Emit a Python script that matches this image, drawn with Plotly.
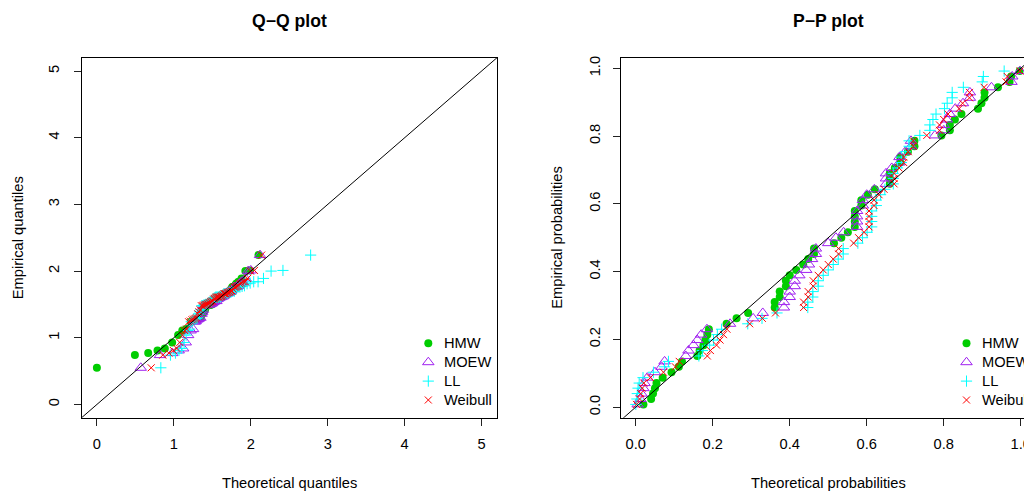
import plotly.graph_objects as go

# ---------------- data ----------------
SERIES = ["HMW", "MOEW", "LL", "Weibull"]

# sorted sample (empirical quantiles), n = 63
DATA = [0.55, 0.74, 0.77, 0.81, 0.84, 0.93, 1.04, 1.11, 1.13, 1.24,
        1.25, 1.27, 1.28, 1.29, 1.30, 1.36, 1.39, 1.42, 1.48, 1.48,
        1.49, 1.49, 1.50, 1.50, 1.51, 1.52, 1.53, 1.54, 1.55, 1.55,
        1.58, 1.59, 1.60, 1.61, 1.61, 1.61, 1.61, 1.62, 1.62, 1.63,
        1.64, 1.66, 1.66, 1.66, 1.67, 1.68, 1.68, 1.69, 1.70, 1.70,
        1.73, 1.76, 1.76, 1.77, 1.78, 1.81, 1.82, 1.84, 1.84, 1.89,
        2.00, 2.01, 2.24]

# empirical probabilities (P-P y values)
EMP_PROB = [0.008, 0.024, 0.040, 0.056, 0.071, 0.087, 0.103, 0.119, 0.135, 0.151,
            0.167, 0.183, 0.198, 0.214, 0.230, 0.246, 0.262, 0.278, 0.294, 0.310,
            0.325, 0.341, 0.357, 0.373, 0.389, 0.405, 0.421, 0.437, 0.452, 0.468,
            0.484, 0.500, 0.516, 0.532, 0.548, 0.563, 0.579, 0.595, 0.611, 0.627,
            0.643, 0.659, 0.675, 0.690, 0.706, 0.722, 0.738, 0.754, 0.770, 0.786,
            0.802, 0.817, 0.833, 0.849, 0.865, 0.881, 0.897, 0.913, 0.929, 0.944,
            0.960, 0.976, 0.992]

# theoretical quantiles (Q-Q x values)
QQ_HMW = [0.000, 0.494, 0.667, 0.788, 0.883, 0.978, 1.056, 1.110, 1.160, 1.220,
          1.250, 1.285, 1.310, 1.330, 1.352, 1.372, 1.390, 1.406, 1.422, 1.436,
          1.455, 1.470, 1.480, 1.490, 1.505, 1.515, 1.525, 1.535, 1.545, 1.555,
          1.565, 1.575, 1.585, 1.595, 1.605, 1.610, 1.615, 1.620, 1.630, 1.635,
          1.645, 1.660, 1.665, 1.675, 1.685, 1.695, 1.705, 1.715, 1.725, 1.735,
          1.745, 1.760, 1.770, 1.785, 1.795, 1.810, 1.825, 1.840, 1.860, 1.880,
          1.930, 1.990, 2.100]
QQ_MOEW = [0.570, 0.820, 0.980, 1.063, 1.121, 1.155, 1.186, 1.218, 1.250, 1.271,
           1.284, 1.298, 1.313, 1.329, 1.345, 1.360, 1.369, 1.377, 1.385, 1.396,
           1.414, 1.432, 1.449, 1.467, 1.483, 1.494, 1.505, 1.516, 1.532, 1.553,
           1.566, 1.580, 1.588, 1.596, 1.602, 1.607, 1.612, 1.626, 1.635, 1.644,
           1.655, 1.665, 1.674, 1.683, 1.692, 1.704, 1.711, 1.719, 1.727, 1.742,
           1.762, 1.781, 1.812, 1.825, 1.838, 1.851, 1.866, 1.879, 1.900, 1.932,
           1.966, 2.000, 2.120]
QQ_LL = [0.831, 0.956, 1.021, 1.067, 1.103, 1.134, 1.160, 1.184, 1.205, 1.225,
         1.243, 1.260, 1.277, 1.292, 1.307, 1.321, 1.335, 1.349, 1.362, 1.375,
         1.388, 1.400, 1.412, 1.425, 1.437, 1.449, 1.460, 1.472, 1.484, 1.496,
         1.508, 1.520, 1.532, 1.544, 1.557, 1.569, 1.582, 1.595, 1.608, 1.622,
         1.636, 1.650, 1.665, 1.681, 1.696, 1.713, 1.730, 1.748, 1.768, 1.788,
         1.810, 1.833, 1.859, 1.887, 1.918, 1.952, 1.992, 2.038, 2.095, 2.165,
         2.264, 2.418, 2.778]
QQ_WEIBULL = [0.706, 0.856, 0.936, 0.993, 1.039, 1.077, 1.111, 1.140, 1.167, 1.192,
              1.214, 1.236, 1.256, 1.275, 1.293, 1.310, 1.326, 1.342, 1.358, 1.373,
              1.387, 1.401, 1.415, 1.429, 1.442, 1.455, 1.468, 1.481, 1.493, 1.505,
              1.518, 1.530, 1.542, 1.554, 1.566, 1.578, 1.590, 1.602, 1.614, 1.626,
              1.638, 1.651, 1.663, 1.676, 1.688, 1.701, 1.715, 1.728, 1.742, 1.757,
              1.771, 1.787, 1.803, 1.820, 1.838, 1.858, 1.879, 1.902, 1.928, 1.959,
              1.996, 2.048, 2.141]

# theoretical probabilities (P-P x values)
PP_HMW = [0.020, 0.040, 0.045, 0.050, 0.054, 0.070, 0.093, 0.112, 0.120, 0.160,
          0.166, 0.176, 0.181, 0.186, 0.190, 0.236, 0.262, 0.292, 0.361, 0.361,
          0.374, 0.374, 0.390, 0.390, 0.400, 0.417, 0.435, 0.448, 0.463, 0.463,
          0.515, 0.534, 0.551, 0.569, 0.569, 0.569, 0.569, 0.586, 0.586, 0.603,
          0.621, 0.660, 0.660, 0.660, 0.673, 0.687, 0.687, 0.707, 0.724, 0.724,
          0.794, 0.816, 0.816, 0.829, 0.846, 0.889, 0.898, 0.906, 0.906, 0.941,
          0.971, 0.975, 0.997]
PP_MOEW = [0.005, 0.012, 0.015, 0.020, 0.023, 0.030, 0.050, 0.067, 0.075, 0.130,
           0.137, 0.150, 0.160, 0.170, 0.185, 0.245, 0.305, 0.330, 0.385, 0.385,
           0.400, 0.400, 0.413, 0.413, 0.425, 0.443, 0.450, 0.458, 0.468, 0.468,
           0.500, 0.520, 0.540, 0.575, 0.575, 0.575, 0.575, 0.590, 0.590, 0.600,
           0.620, 0.650, 0.650, 0.650, 0.665, 0.685, 0.685, 0.700, 0.715, 0.715,
           0.777, 0.800, 0.800, 0.808, 0.816, 0.830, 0.850, 0.868, 0.868, 0.924,
           0.976, 0.978, 0.998]
PP_LL = [0.0003, 0.003, 0.004, 0.006, 0.009, 0.019, 0.046, 0.075, 0.085, 0.164,
         0.173, 0.192, 0.202, 0.212, 0.223, 0.291, 0.328, 0.367, 0.447, 0.447,
         0.460, 0.460, 0.474, 0.474, 0.487, 0.500, 0.513, 0.526, 0.539, 0.539,
         0.577, 0.589, 0.601, 0.613, 0.613, 0.613, 0.613, 0.625, 0.625, 0.636,
         0.647, 0.669, 0.669, 0.669, 0.680, 0.690, 0.690, 0.700, 0.710, 0.710,
         0.738, 0.764, 0.764, 0.772, 0.780, 0.802, 0.809, 0.822, 0.822, 0.851,
         0.900, 0.903, 0.957]
PP_WEIBULL = [0.002, 0.010, 0.013, 0.017, 0.021, 0.038, 0.072, 0.103, 0.113, 0.186,
              0.194, 0.210, 0.219, 0.228, 0.237, 0.296, 0.329, 0.363, 0.436, 0.436,
              0.448, 0.448, 0.461, 0.461, 0.474, 0.487, 0.500, 0.513, 0.527, 0.527,
              0.566, 0.579, 0.593, 0.606, 0.606, 0.606, 0.606, 0.619, 0.619, 0.632,
              0.645, 0.671, 0.671, 0.671, 0.684, 0.696, 0.696, 0.708, 0.721, 0.721,
              0.756, 0.789, 0.789, 0.800, 0.811, 0.840, 0.849, 0.867, 0.867, 0.905,
              0.962, 0.965, 0.998]

QQ_TICKS = [0, 1, 2, 3, 4, 5]
PP_TICKS = [0.0, 0.2, 0.4, 0.6, 0.8, 1.0]
PP_TICK_LABELS = ["0.0", "0.2", "0.4", "0.6", "0.8", "1.0"]

QQ_X = {"HMW": QQ_HMW, "MOEW": QQ_MOEW, "LL": QQ_LL, "Weibull": QQ_WEIBULL}
PP_X = {"HMW": PP_HMW, "MOEW": PP_MOEW, "LL": PP_LL, "Weibull": PP_WEIBULL}

# ---------------- style / layout ----------------
W, H = 1024, 491
FONT = "Liberation Sans, Arial, Helvetica, sans-serif"
FS = 14.67

STYLE = {
    "HMW": dict(symbol="circle", size=8, color="#00CD00", lw=0),
    "MOEW": dict(symbol="triangle-up-open", size=10, color="#A020F0", lw=1),
    "LL": dict(symbol="cross-thin-open", size=8, color="#00FFFF", lw=1),
    "Weibull": dict(symbol="x-thin-open", size=7, color="#FF0000", lw=1),
}

# plot boxes in pixels
QQ_BOX_X = (81.5, 497.0)
PP_BOX_X0 = 620.7
PP_PX_PER_UNIT = 385.0
BOX_Y = (57.7, 417.8)  # top, bottom

QQ_RANGE = [-0.2, 5.2]
PP_X0 = -0.039
PP_XRANGE = [PP_X0, PP_X0 + (W - PP_BOX_X0) / PP_PX_PER_UNIT]
PP_YRANGE = [-0.0315, 1.0314]
PP_LINE = [-0.04, 1.04]

ydom = [(H - BOX_Y[1]) / H, (H - BOX_Y[0]) / H]


def marker(name):
    s = STYLE[name]
    return dict(symbol=s["symbol"], size=s["size"], color=s["color"],
                line=dict(color=s["color"], width=s["lw"]))


fig = go.Figure()

for name in SERIES:
    fig.add_trace(go.Scatter(x=QQ_X[name], y=DATA, mode="markers", name=name,
                             marker=marker(name), xaxis="x", yaxis="y",
                             showlegend=False, hoverinfo="skip"))
for name in SERIES:
    fig.add_trace(go.Scatter(x=PP_X[name], y=EMP_PROB, mode="markers", name=name,
                             marker=marker(name), xaxis="x2", yaxis="y2",
                             showlegend=False, hoverinfo="skip"))

# legends (overlay axes in pixel units)
LEG_ROWS_Y = [343.3, 362.2, 381.1, 400.0]
LEG_SYM_X = {"left": 428.3, "right": 966.5}
LEG_TXT_X = {"left": 441.5, "right": 979.5}
for side in ["left", "right"]:
    for name, yy in zip(SERIES, LEG_ROWS_Y):
        fig.add_trace(go.Scatter(x=[LEG_SYM_X[side]], y=[yy], mode="markers",
                                 marker=marker(name), xaxis="x3", yaxis="y3",
                                 showlegend=False, hoverinfo="skip",
                                 cliponaxis=False))

annotations = []
for side in ["left", "right"]:
    for name, yy in zip(SERIES, LEG_ROWS_Y):
        annotations.append(dict(text=name, x=LEG_TXT_X[side] / W, y=(H - yy) / H,
                                xref="paper", yref="paper", xanchor="left",
                                yanchor="middle", showarrow=False,
                                font=dict(size=FS, family=FONT, color="black")))

# titles and axis labels
qq_cx = (QQ_BOX_X[0] + QQ_BOX_X[1]) / 2
pp_cx = PP_BOX_X0 + (PP_LINE[1] - PP_LINE[0]) * PP_PX_PER_UNIT / 2 - 0.001 * PP_PX_PER_UNIT
box_cy = (BOX_Y[0] + BOX_Y[1]) / 2
texts = [
    ("<b>Q\u2212Q plot</b>", qq_cx, 20.5, 0, 17.6),
    ("<b>P\u2212P plot</b>", pp_cx, 20.5, 0, 17.6),
    ("Theoretical quantiles", qq_cx, 482.5, 0, FS),
    ("Theoretical probabilities", pp_cx, 482.5, 0, FS),
    ("Empirical quantiles", 17.5, box_cy, -90, FS),
    ("Empirical probabilities", 557.0, box_cy, -90, FS),
]
for t, x, y, ang, fs in texts:
    annotations.append(dict(text=t, x=x / W, y=(H - y) / H, xref="paper", yref="paper",
                            xanchor="center", yanchor="middle", showarrow=False,
                            textangle=ang, font=dict(size=fs, family=FONT, color="black")))

axis_common = dict(showline=True, linecolor="black", linewidth=1, ticks="outside",
                   ticklen=7, tickwidth=1, tickcolor="#222", showgrid=False,
                   zeroline=False, tickfont=dict(family=FONT, size=FS, color="black"),
                   fixedrange=True)

fig.update_layout(
    width=W, height=H,
    margin=dict(l=0, r=0, t=0, b=0, pad=0, autoexpand=False),
    paper_bgcolor="white", plot_bgcolor="rgba(0,0,0,0)",
    showlegend=False,
    font=dict(family=FONT, size=FS, color="black"),
    xaxis=dict(domain=[QQ_BOX_X[0] / W, QQ_BOX_X[1] / W], range=QQ_RANGE,
               tickvals=QQ_TICKS, mirror=True, anchor="y", ticklabelstandoff=6,
               **axis_common),
    yaxis=dict(domain=ydom, range=QQ_RANGE, tickvals=QQ_TICKS, mirror=True,
               anchor="x", tickangle=-90, ticklabelstandoff=9, **axis_common),
    xaxis2=dict(domain=[PP_BOX_X0 / W, 1.0], range=PP_XRANGE, tickvals=PP_TICKS,
                ticktext=PP_TICK_LABELS, mirror=True, anchor="y2",
                ticklabelstandoff=6, ticklabeloverflow="allow", **axis_common),
    yaxis2=dict(domain=ydom, range=PP_YRANGE, tickvals=PP_TICKS,
                ticktext=PP_TICK_LABELS, mirror=False, anchor="x2", tickangle=-90,
                ticklabelstandoff=7, **axis_common),
    xaxis3=dict(domain=[0, 1], range=[0, W], visible=False, anchor="y3", fixedrange=True),
    yaxis3=dict(domain=[0, 1], range=[H, 0], visible=False, anchor="x3", fixedrange=True),
    annotations=annotations,
    shapes=[
        dict(type="line", xref="x", yref="y", x0=QQ_RANGE[0], y0=QQ_RANGE[0],
             x1=QQ_RANGE[1], y1=QQ_RANGE[1], line=dict(color="black", width=1),
             layer="above"),
        dict(type="line", xref="x2", yref="y2", x0=PP_LINE[0], y0=PP_LINE[0],
             x1=PP_LINE[1], y1=PP_LINE[1], line=dict(color="black", width=1),
             layer="above"),
    ],
)

fig.write_html("out.html")
